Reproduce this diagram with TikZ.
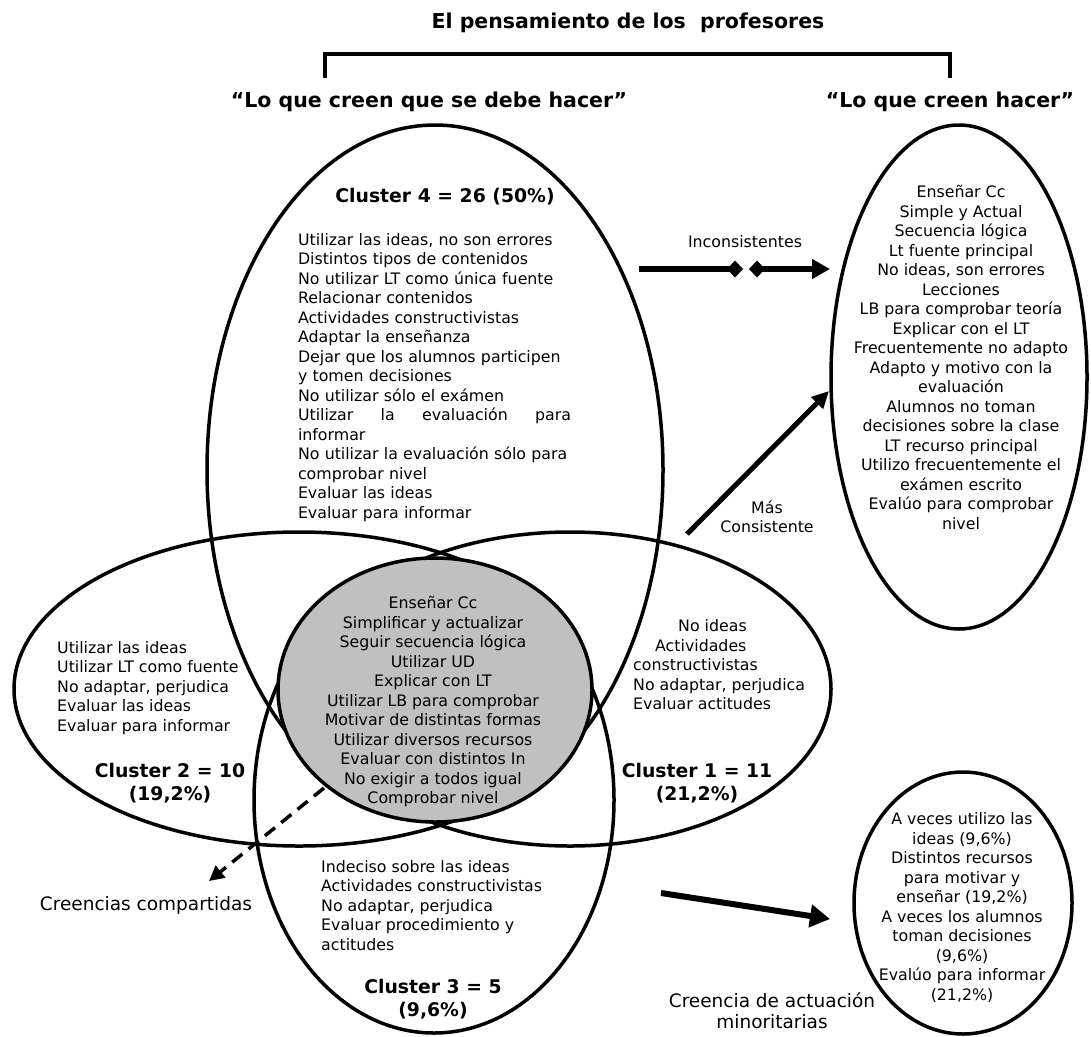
\documentclass[tikz,border=0pt]{standalone}
\usepackage{fontspec}
\setmainfont{DejaVu Sans}
\usetikzlibrary{shapes.geometric,arrows.meta}
\definecolor{grayfill}{RGB}{192,192,192}
\tikzset{
  ell/.style={draw, ellipse, line width=3.5pt, inner sep=0pt},
  body/.style={font=\fontsize{15.8}{19.5}\selectfont, inner sep=0pt},
  clab/.style={font=\bfseries\fontsize{18.8}{23}\selectfont, align=center, inner sep=0pt},
  headtxt/.style={font=\bfseries\fontsize{20.5}{24}\selectfont, inner sep=0pt},
  biglab/.style={font=\fontsize{18.5}{21}\selectfont, align=center, inner sep=0pt},
}
\begin{document}
\begin{tikzpicture}[x=1pt,y=-1pt]
\useasboundingbox (0,0) rectangle (1091,1036);
\fill[white] (0,0) rectangle (1091,1036);

% title and bracket
\node[headtxt] (title) at (628,23) {El pensamiento de los\ \ profesores};
\coordinate (bl) at (325,78);
\coordinate (blt) at (325,54);
\coordinate (brt) at (950,54);
\coordinate (br) at (950,78);
\draw[line width=4pt] (bl) -- (blt) -- (brt) -- (br);
\node[headtxt] (hdrL) at (429,102) {“Lo que creen que se debe hacer”};
\node[headtxt] (hdrR) at (950,102) {“Lo que creen hacer”};

% ellipses
\node[ell, minimum width=456pt, minimum height=690pt] (c4) at (435,470) {};
\node[ell, minimum width=570pt, minimum height=314pt] (c2) at (299,689) {};
\node[ell, minimum width=522pt, minimum height=314pt] (c1) at (570,689) {};
\node[ell, minimum width=360pt, minimum height=466pt] (c3) at (434,800) {};
\node[ell, fill=grayfill, minimum width=314pt, minimum height=264pt] (core) at (435,690) {};
\node[ell, minimum width=256pt, minimum height=504pt] (act) at (959,377) {};
\node[ell, minimum width=218pt, minimum height=262pt] (minor) at (963,903) {};

% cluster 4
\node[clab] (c4lab) at (445,197) {Cluster 4 = 26 (50\%)};
\node[body, text width=273pt, align=left] (c4list) at (434.5,377.5) {Utilizar las ideas, no son errores\\
Distintos tipos de contenidos\\
No utilizar LT como única fuente\\
Relacionar contenidos\\
Actividades constructivistas\\
Adaptar la enseñanza\\
Dejar que los alumnos participen\\
y tomen decisiones\\
No utilizar sólo el exámen\\
\leavevmode\hbox to\hsize{Utilizar\hfill la\hfill evaluación\hfill para}\\
informar\\
No utilizar la evaluación sólo para\\
comprobar nivel\\
Evaluar las ideas\\
Evaluar para informar};

% right ellipse
\node[body, align=center] (actlist) at (961,357.5) {Enseñar Cc\\
Simple y Actual\\
Secuencia lógica\\
Lt fuente principal\\
No ideas, son errores\\
Lecciones\\
LB para comprobar teoría\\
Explicar con el LT\\
Frecuentemente no adapto\\
Adapto y motivo con la\\
evaluación\\
Alumnos no toman\\
decisiones sobre la clase\\
LT recurso principal\\
Utilizo frecuentemente el\\
exámen escrito\\
Evalúo para comprobar\\
nivel};

% inconsistentes arrow
\node[body] (incons) at (745,242) {Inconsistentes};
\coordinate (i1) at (639,269);
\coordinate (i2) at (743,269);
\coordinate (i3) at (749,269);
\coordinate (i4) at (830,269);
\draw[line width=5.5pt, -{Diamond[length=16pt,width=17pt]}] (i1) -- (i2);
\draw[line width=5.5pt, {Diamond[length=16pt,width=17pt]}-{Triangle[length=18pt,width=19pt]}] (i3) -- (i4);

% mas consistente arrow
\node[body, align=center] (mas) at (767,517) {Más\\Consistente};
\coordinate (m1) at (687,534);
\coordinate (m2) at (829,391);
\draw[line width=5pt, -{Triangle[length=17pt,width=16pt]}] (m1) -- (m2);

% cluster 2
\node[body, align=left, anchor=west] (c2list) at (57,688) {Utilizar las ideas\\
Utilizar LT como fuente\\
No adaptar, perjudica\\
Evaluar las ideas\\
Evaluar para informar};
\node[clab] (c2lab) at (170,783.5) {Cluster 2 = 10\\(19,2\%)};

% core
\node[body, align=center] (corelist) at (433,701.5) {Enseñar Cc\\
Simplificar y actualizar\\
Seguir secuencia lógica\\
Utilizar UD\\
Explicar con LT\\
Utilizar LB para comprobar\\
Motivar de distintas formas\\
Utilizar diversos recursos\\
Evaluar con distintos In\\
No exigir a todos igual\\
Comprobar nivel};

% cluster 1
\node[body, align=left, anchor=west] (c1list) at (633,665) {\hspace*{45pt}No ideas\\
\hspace*{22pt}Actividades\\
constructivistas\\
No adaptar, perjudica\\
Evaluar actitudes};
\node[clab] (c1lab) at (697,783.5) {Cluster 1 = 11\\(21,2\%)};

% shared beliefs
\coordinate (d1) at (324,788);
\coordinate (d2) at (209,881);
\draw[line width=3.5pt, dash pattern=on 13pt off 8pt, -{Triangle[length=15pt,width=15pt]}] (d1) -- (d2);
\node[biglab] (shared) at (146,905) {Creencias compartidas};

% cluster 3
\node[body, align=left, anchor=west] (c3list) at (321,905.5) {Indeciso sobre las ideas\\
Actividades constructivistas\\
No adaptar, perjudica\\
Evaluar procedimiento y\\
actitudes};
\node[clab] (c3lab) at (433,999) {Cluster 3 = 5\\(9,6\%)};

% minority
\coordinate (b1) at (661,893);
\coordinate (b2) at (830,919);
\draw[line width=6pt, -{Triangle[length=20pt,width=22pt]}] (b1) -- (b2);
\node[biglab] (minlab) at (772,1011) {Creencia de actuación\\minoritarias};
\node[body, align=center] (minlist) at (962,907.5) {A veces utilizo las\\
ideas (9,6\%)\\
Distintos recursos\\
para motivar y\\
enseñar (19,2\%)\\
A veces los alumnos\\
toman decisiones\\
(9,6\%)\\
Evalúo para informar\\
(21,2\%)};
\end{tikzpicture}
\end{document}
